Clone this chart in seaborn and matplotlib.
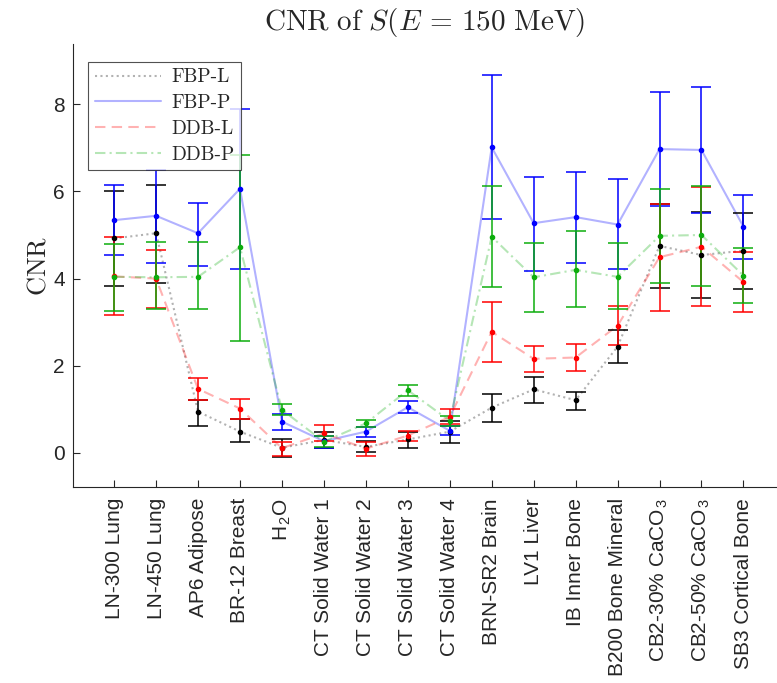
import numpy as np
import pandas as pd
import matplotlib
matplotlib.use("Agg")
import matplotlib.pyplot as plt
import seaborn as sns

materials = ["LN-300 Lung", "LN-450 Lung", "AP6 Adipose", "BR-12 Breast",
             r"H$_\mathregular{2}$O", "CT Solid Water 1", "CT Solid Water 2",
             "CT Solid Water 3", "CT Solid Water 4", "BRN-SR2 Brain",
             "LV1 Liver", "IB Inner Bone", "B200 Bone Mineral",
             r"CB2-30% CaCO$_\mathregular{3}$", r"CB2-50% CaCO$_\mathregular{3}$",
             "SB3 Cortical Bone"]
methods = ["FBP-L", "FBP-P", "DDB-L", "DDB-P"]

# CNR values, with lower/upper error bar ends
fbp_l = [4.92, 5.04, 0.95, 0.49, 0.12, 0.30, 0.14, 0.31, 0.49, 1.04, 1.46, 1.21, 2.44, 4.75, 4.54, 4.64]
fbp_l_lo = [3.84, 3.91, 0.62, 0.26, -0.10, 0.11, 0.02, 0.12, 0.24, 0.72, 1.15, 0.99, 2.07, 3.79, 3.56, 3.77]
fbp_l_hi = [6.01, 6.15, 1.22, 0.77, 0.31, 0.49, 0.27, 0.49, 0.74, 1.35, 1.75, 1.41, 2.81, 5.71, 5.52, 5.50]

fbp_p = [5.34, 5.44, 5.04, 6.06, 0.72, 0.27, 0.49, 1.05, 0.51, 7.01, 5.27, 5.41, 5.24, 6.97, 6.95, 5.19]
fbp_p_lo = [4.54, 4.35, 4.30, 4.21, 0.53, 0.12, 0.37, 0.91, 0.41, 5.36, 4.18, 4.35, 4.21, 5.67, 5.50, 4.45]
fbp_p_hi = [6.15, 6.49, 5.74, 7.90, 0.90, 0.40, 0.59, 1.20, 0.61, 8.66, 6.32, 6.45, 6.28, 8.27, 8.39, 5.91]

ddb_l = [4.05, 4.00, 1.47, 1.02, 0.11, 0.45, 0.10, 0.40, 0.83, 2.78, 2.16, 2.19, 2.92, 4.49, 4.73, 3.92]
ddb_l_lo = [3.16, 3.32, 1.22, 0.77, -0.06, 0.27, -0.08, 0.28, 0.66, 2.09, 1.85, 1.87, 2.48, 3.26, 3.38, 3.24]
ddb_l_hi = [4.95, 4.66, 1.73, 1.24, 0.26, 0.64, 0.26, 0.51, 1.00, 3.46, 2.45, 2.50, 3.36, 5.71, 6.09, 4.62]

ddb_p = [4.04, 4.03, 4.04, 4.72, 0.99, 0.26, 0.68, 1.44, 0.74, 4.96, 4.03, 4.20, 4.04, 4.98, 5.00, 4.07]
ddb_p_lo = [3.26, 3.30, 3.30, 2.57, 0.88, 0.13, 0.59, 1.31, 0.62, 3.80, 3.24, 3.34, 3.30, 3.91, 3.84, 3.43]
ddb_p_hi = [4.79, 4.83, 4.83, 6.83, 1.12, 0.38, 0.76, 1.57, 0.85, 6.13, 4.81, 5.08, 4.81, 6.06, 6.13, 4.71]

series = {
    "FBP-L": (fbp_l, fbp_l_lo, fbp_l_hi),
    "FBP-P": (fbp_p, fbp_p_lo, fbp_p_hi),
    "DDB-L": (ddb_l, ddb_l_lo, ddb_l_hi),
    "DDB-P": (ddb_p, ddb_p_lo, ddb_p_hi),
}
colors = {"FBP-L": (0, 0, 0), "FBP-P": (0, 0, 1), "DDB-L": (1, 0, 0), "DDB-P": (0.05, 0.68, 0.05)}
dashes = {"FBP-L": (1, 1.6), "FBP-P": "", "DDB-L": (5, 3), "DDB-P": (5, 2, 1, 2)}

sns.set_style("ticks")
plt.rcParams['font.family'] = ['Liberation Sans', 'DejaVu Sans']
plt.rcParams['mathtext.fontset'] = 'cm'

x = np.arange(1, len(materials) + 1)
rows = []
for m in methods:
    for xi, v in zip(x, series[m][0]):
        rows.append({"idx": xi, "CNR": v, "method": m})
df = pd.DataFrame(rows)

fig = plt.figure(figsize=(7.77, 6.83), dpi=100)
ax = fig.add_axes([73 / 777, 1 - 487 / 683, 1 - 73 / 777, (487 - 44) / 683])

sns.lineplot(data=df, x="idx", y="CNR", hue="method", style="method",
             palette=colors, dashes=dashes, hue_order=methods, style_order=methods,
             linewidth=1.5, alpha=0.3, legend=False, ax=ax)
handles = list(ax.lines[:4])

for m in methods:
    v, lo, hi = (np.array(a) for a in series[m])
    ax.errorbar(x, v, yerr=[v - lo, hi - v], fmt='o', color=colors[m],
                markersize=3, elinewidth=1.1, capsize=7, capthick=1.1)

ax.legend(handles, methods, loc='upper left', bbox_to_anchor=(0.022, 0.96),
          prop={'family': 'cmr10', 'size': 14}, frameon=True, fancybox=False,
          edgecolor='#262626', handlelength=3.4, labelspacing=0.4,
          borderpad=0.35, handletextpad=0.5, borderaxespad=0)
ax.get_legend().get_frame().set_linewidth(0.8)

ax.set_xlim(0.02, 16.8)
ax.set_ylim(-0.78, 9.38)
ax.set_xticks(x)
ax.set_xticklabels(materials, rotation=90, fontsize=15, color='#262626')
ax.set_yticks([0, 2, 4, 6, 8])
ax.tick_params(axis='y', labelsize=15, colors='#262626', pad=6)
ax.tick_params(axis='x', pad=8)
ax.tick_params(direction='in', length=5, width=0.8)
ax.set_xlabel("")
ax.set_ylabel(r"$\mathrm{CNR}$", fontsize=19, color='#262626', labelpad=2)
ax.set_title(r"$\mathrm{CNR\ of\ }S(E\,=\,150\ \mathrm{MeV})$", fontsize=21, pad=10)
for s in ['top', 'right']:
    ax.spines[s].set_visible(False)
for s in ['left', 'bottom']:
    ax.spines[s].set_color('#262626')
    ax.spines[s].set_linewidth(0.8)

fig.savefig("out.png", dpi=100)
